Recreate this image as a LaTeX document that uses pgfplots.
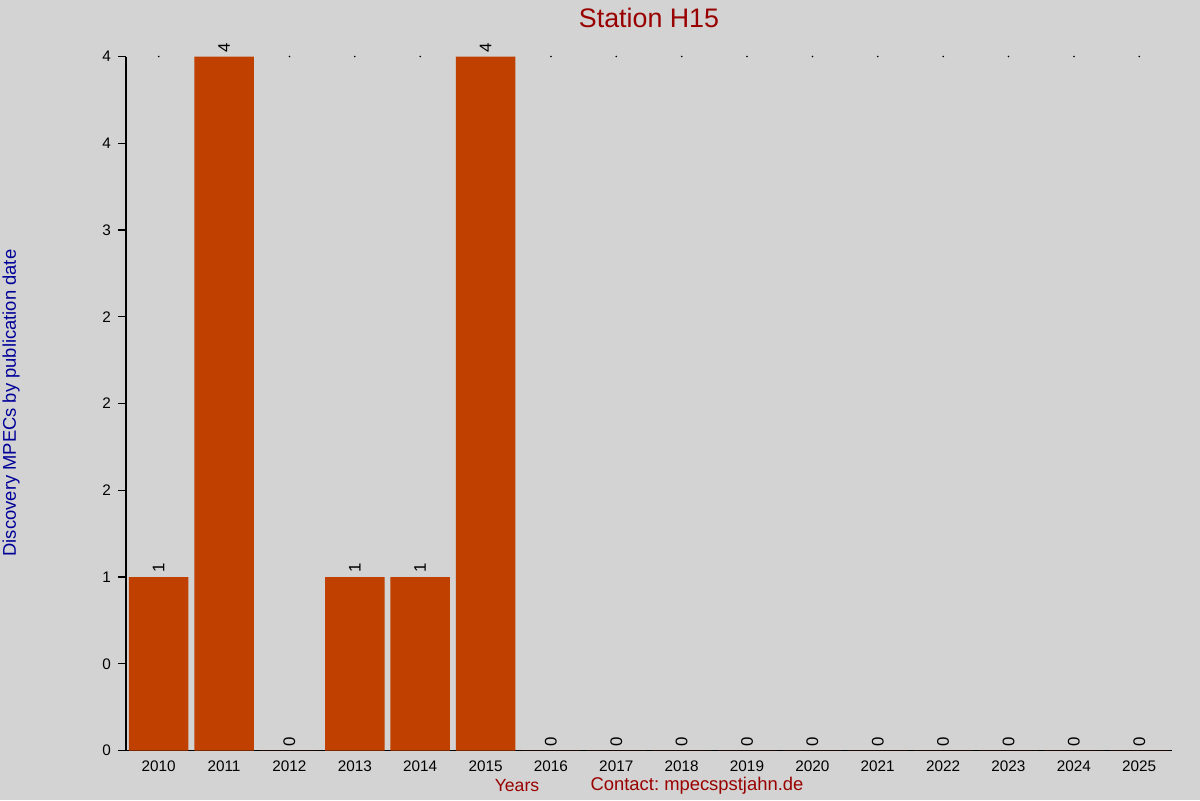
\documentclass[border=0pt]{standalone}
\usepackage{pgfplots}
\pgfplotsset{compat=1.18}
\usepackage{fontspec}
\setmainfont{Liberation Sans}
\frenchspacing
\definecolor{bg}{HTML}{D3D3D3}
\definecolor{barc}{HTML}{C04000}
\definecolor{titlec}{HTML}{990000}
\definecolor{ylabc}{HTML}{000099}
\begin{document}
\begin{tikzpicture}[x=1pt,y=1pt]
\fill[bg] (0,0) rectangle (600,400);
\useasboundingbox (0,0) rectangle (600,400);
\begin{axis}[
  at={(63pt,24.75pt)}, anchor=south west,
  scale only axis, width=523pt, height=347pt,
  xmin=2009.5, xmax=2025.5, ymin=0, ymax=4,
  axis x line*=bottom, axis y line*=left,
  axis line style={black, line width=0.6pt, -},
  xtick={2010,...,2025},
  xticklabels={2010,2011,2012,2013,2014,2015,2016,2017,2018,2019,2020,2021,2022,2023,2024,2025},
  x tick style={draw=none},
  xticklabel style={yshift=2.5pt},
  ytick={0,0.5,1,1.5,2,2.5,3,3.5,4},
  yticklabels={0,0,1,2,2,2,3,4,4},
  y tick style={black, line width=0.6pt},
  tick align=outside, major tick length=4pt,
  tick label style={font=\fontsize{7.65}{9}\selectfont},
  /pgf/number format/assume math mode=true,
  clip=false,
]
\addplot[only marks, mark=*, mark size=0.15pt, black] coordinates {
(2010,4) (2012,4) (2013,4) (2014,4) (2016,4) (2017,4) (2018,4) (2019,4) (2020,4) (2021,4) (2022,4) (2023,4) (2024,4) (2025,4)};
\addplot[ybar, bar width=0.91, fill=barc, draw=none,
  nodes near coords,
  every node near coord/.append style={rotate=90, anchor=west, font=\fontsize{8.4}{10}\selectfont, black, inner sep=2pt},
] coordinates {
(2010,1) (2011,4) (2012,0) (2013,1) (2014,1) (2015,4) (2016,0) (2017,0) (2018,0) (2019,0) (2020,0) (2021,0) (2022,0) (2023,0) (2024,0) (2025,0)};
\end{axis}
\node[font=\fontsize{13.4}{15}\selectfont, text=titlec] at (324.5,391) {Station H15};
\node[font=\fontsize{8.8}{10}\selectfont, text=titlec] at (258.5,7) {Years};
\node[font=\fontsize{9.2}{10}\selectfont, text=titlec] at (348.5,7) {Contact: mpecspstjahn.de};
\node[font=\fontsize{9.2}{10}\selectfont, text=ylabc, rotate=90] at (5.5,198.5) {Discovery MPECs by publication date};
\end{tikzpicture}
\end{document}
